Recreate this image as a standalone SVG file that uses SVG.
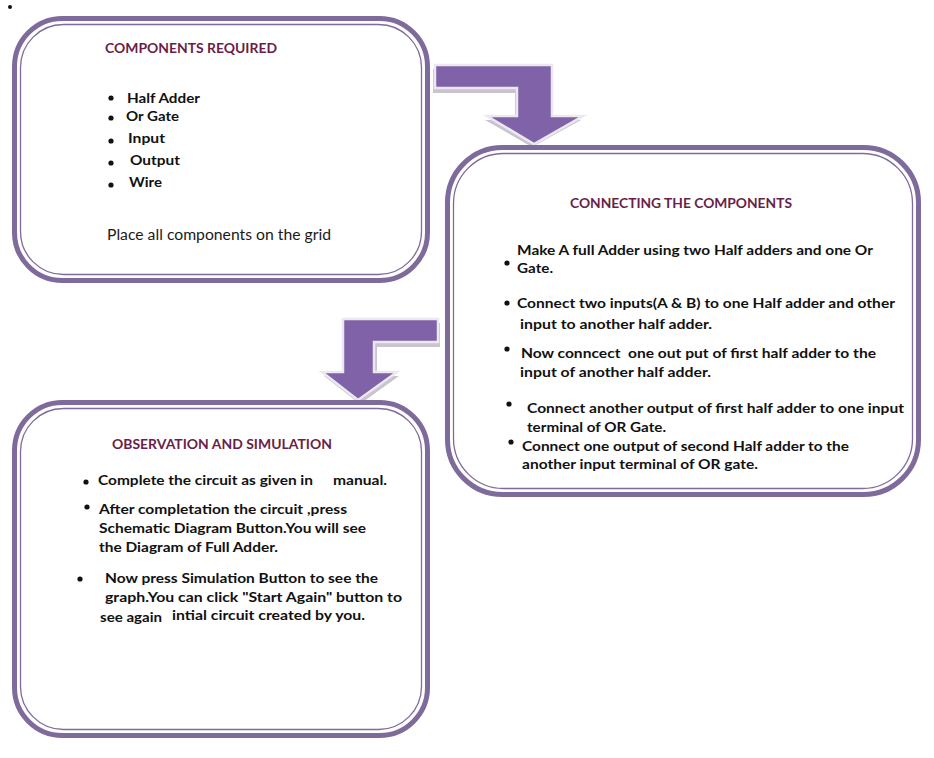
<svg xmlns="http://www.w3.org/2000/svg" width="934" height="758" viewBox="0 0 934 758">
<style>
.frame{fill:#ffffff;stroke:#7f6a9c;stroke-width:5}
.inner{fill:none;stroke:#7f6a9c;stroke-width:1.3}
.title{font-family:Lato,"Liberation Sans",sans-serif;font-weight:bold;font-size:13px;fill:#6a1e48}
.b{font-family:Lato,"Liberation Sans",sans-serif;font-weight:bold;font-size:14px;fill:#111111}
.r{font-family:Lato,"Liberation Sans",sans-serif;font-size:15.5px;fill:#1a1a1a}
.dot{fill:#111111}
.arrow{fill:#7f62a8;stroke:#ece8f0;stroke-width:2.5;stroke-linejoin:miter}
.shadow{fill:#c9c4cf}
</style>
<rect x="0" y="0" width="934" height="758" fill="#ffffff"/>
<circle cx="10" cy="7" r="2" class="dot"/>

<g id="connectors">
  <path class="shadow" d="M433,69 L550,69 L550,120 L581,120 L532,147 L485,120 L515,120 L515,93 L433,93 Z"/>
  <path class="arrow" d="M435,65 L552,65 L552,116 L583,116 L534,144 L487,116 L517,116 L517,88 L435,88 Z"/>
  <path class="shadow" d="M345,323 L440,323 L440,347 L377,347 L377,376 L399,376 L360,404 L324,376 L345,376 Z"/>
  <path class="arrow" d="M343,319 L438,319 L438,342 L374,342 L374,372 L397,372 L358,400 L322,372 L343,372 Z"/>
</g>

<g id="node-components">
  <rect class="frame" x="14.5" y="18.5" width="413" height="262" rx="48"/>
  <rect class="inner" x="20.5" y="24.5" width="401" height="250" rx="43"/>
  <text class="title" x="105" y="53" textLength="172" lengthAdjust="spacingAndGlyphs">COMPONENTS REQUIRED</text>
  <circle class="dot" cx="111" cy="98" r="2.6"/>
  <circle class="dot" cx="111" cy="118" r="2.6"/>
  <circle class="dot" cx="111" cy="141" r="2.6"/>
  <circle class="dot" cx="111" cy="163" r="2.6"/>
  <circle class="dot" cx="111" cy="185" r="2.6"/>
  <text class="b" x="127" y="103" textLength="73" lengthAdjust="spacingAndGlyphs">Half Adder</text>
  <text class="b" x="126" y="121" textLength="53" lengthAdjust="spacingAndGlyphs">Or Gate</text>
  <text class="b" x="128" y="143" textLength="37" lengthAdjust="spacingAndGlyphs">Input</text>
  <text class="b" x="130" y="165" textLength="50" lengthAdjust="spacingAndGlyphs">Output</text>
  <text class="b" x="129" y="187" textLength="33" lengthAdjust="spacingAndGlyphs">Wire</text>
  <text class="r" x="107" y="240" textLength="224" lengthAdjust="spacingAndGlyphs">Place all components on the grid</text>
</g>

<g id="node-connecting">
  <rect class="frame" x="447.5" y="147.5" width="471" height="347" rx="55"/>
  <rect class="inner" x="453.5" y="153.5" width="459" height="335" rx="50"/>
  <text class="title" x="570" y="208" textLength="222" lengthAdjust="spacingAndGlyphs">CONNECTING THE COMPONENTS</text>
  <circle class="dot" cx="507" cy="263" r="2.6"/>
  <text class="b" x="517" y="255" textLength="356" lengthAdjust="spacingAndGlyphs">Make A full Adder using two Half adders and one Or</text>
  <text class="b" x="517" y="273" textLength="36" lengthAdjust="spacingAndGlyphs">Gate.</text>
  <circle class="dot" cx="507" cy="303" r="2.6"/>
  <text class="b" x="517" y="308" textLength="378" lengthAdjust="spacingAndGlyphs">Connect two inputs(A &amp; B) to one Half adder and other</text>
  <text class="b" x="520" y="329" textLength="192" lengthAdjust="spacingAndGlyphs">input to another half adder.</text>
  <circle class="dot" cx="507" cy="349" r="2.6"/>
  <text class="b" x="521" y="358" textLength="355" lengthAdjust="spacingAndGlyphs" style="white-space:pre">Now conncect  one out put of first half adder to the</text>
  <text class="b" x="520" y="377" textLength="191" lengthAdjust="spacingAndGlyphs">input of another half adder.</text>
  <circle class="dot" cx="509" cy="404" r="2.6"/>
  <text class="b" x="527" y="413" textLength="377" lengthAdjust="spacingAndGlyphs">Connect another output of first half adder to one input</text>
  <text class="b" x="527" y="432" textLength="139" lengthAdjust="spacingAndGlyphs">terminal of OR Gate.</text>
  <circle class="dot" cx="511" cy="442" r="2.6"/>
  <text class="b" x="522" y="451" textLength="327" lengthAdjust="spacingAndGlyphs">Connect one output of second Half adder to the</text>
  <text class="b" x="522" y="469" textLength="236" lengthAdjust="spacingAndGlyphs">another input terminal of OR gate.</text>
</g>

<g id="node-observation">
  <rect class="frame" x="14.5" y="402.5" width="413" height="333" rx="48"/>
  <rect class="inner" x="20.5" y="408.5" width="401" height="321" rx="43"/>
  <text class="title" x="112" y="449" textLength="220" lengthAdjust="spacingAndGlyphs">OBSERVATION AND SIMULATION</text>
  <circle class="dot" cx="86" cy="482" r="2.6"/>
  <text class="b" x="98" y="485" textLength="215" lengthAdjust="spacingAndGlyphs">Complete the circuit as given in</text>
  <text class="b" x="333" y="485" textLength="54" lengthAdjust="spacingAndGlyphs">manual.</text>
  <circle class="dot" cx="87" cy="507" r="2.6"/>
  <text class="b" x="99" y="514" textLength="248" lengthAdjust="spacingAndGlyphs">After completation the circuit ,press</text>
  <text class="b" x="99" y="533" textLength="267" lengthAdjust="spacingAndGlyphs">Schematic Diagram Button.You will see</text>
  <text class="b" x="99" y="552" textLength="179" lengthAdjust="spacingAndGlyphs">the Diagram of Full Adder.</text>
  <circle class="dot" cx="80" cy="579" r="2.6"/>
  <text class="b" x="105" y="583" textLength="273" lengthAdjust="spacingAndGlyphs">Now press Simulation Button to see the</text>
  <text class="b" x="105" y="602" textLength="297" lengthAdjust="spacingAndGlyphs">graph.You can click "Start Again" button to</text>
  <text class="b" x="100" y="622" textLength="62" lengthAdjust="spacingAndGlyphs">see again</text>
  <text class="b" x="172" y="620" textLength="193" lengthAdjust="spacingAndGlyphs">intial circuit created by you.</text>
</g>
</svg>
